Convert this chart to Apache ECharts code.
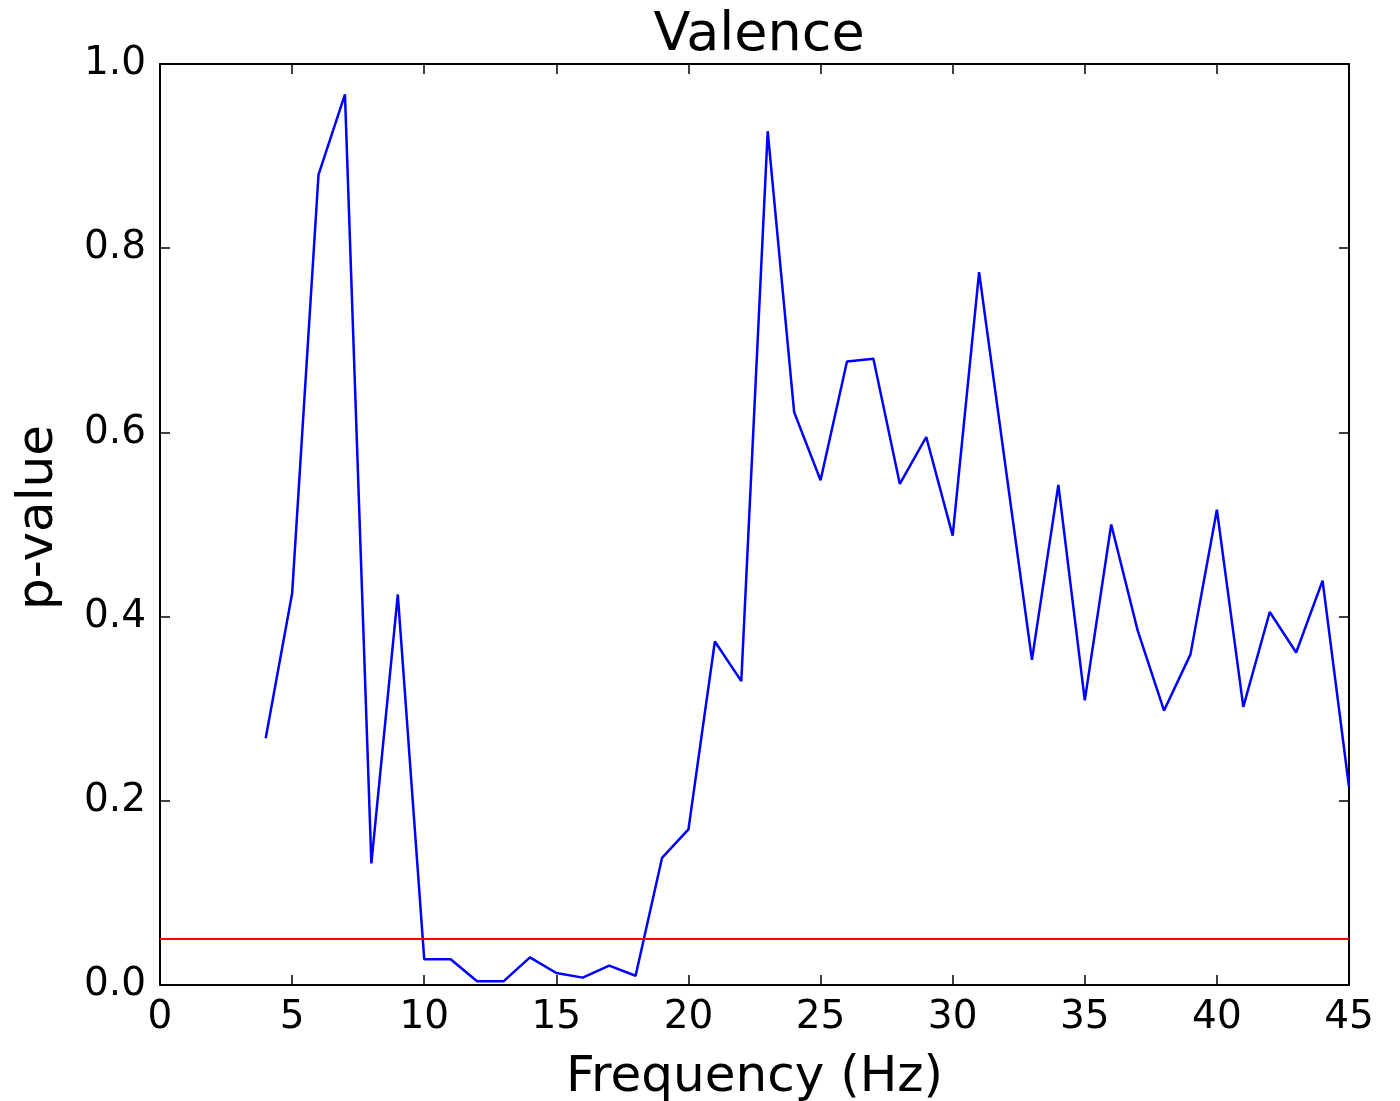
<!DOCTYPE html>
<html>
<head>
<meta charset="utf-8">
<script src="https://cdn.jsdelivr.net/npm/echarts@6/dist/echarts.min.js"></script>
<style>
html, body { margin: 0; padding: 0; background: #fff; }
#chart { width: 1400px; height: 1101px; }
</style>
</head>
<body>
<div id="chart"></div>
<script>
// frequency bins (Hz) and p-value per bin
var freq_hz = [4, 5, 6, 7, 8, 9, 10, 11, 12, 13, 14, 15, 16, 17, 18, 19, 20, 21, 22, 23, 24,
	25, 26, 27, 28, 29, 30, 31, 32, 33, 34, 35, 36, 37, 38, 39, 40, 41, 42, 43, 44, 45];
var p_value = [0.268, 0.425, 0.880, 0.967, 0.132, 0.424, 0.028, 0.028, 0.004, 0.004, 0.030,
	0.013, 0.008, 0.021, 0.010, 0.138, 0.169, 0.373, 0.330, 0.927, 0.622,
	0.548, 0.677, 0.680, 0.544, 0.595, 0.488, 0.774, 0.563, 0.353, 0.543,
	0.309, 0.500, 0.385, 0.298, 0.359, 0.516, 0.302, 0.405, 0.361, 0.439, 0.215];
var threshold = 0.05; // significance line

var x_ticks = [0, 5, 10, 15, 20, 25, 30, 35, 40, 45];
var y_ticks = [0.0, 0.2, 0.4, 0.6, 0.8, 1.0];

var font = 'DejaVu Sans';

var line_data = [];
for (var i = 0; i < freq_hz.length; i++) {
	line_data.push([freq_hz[i], p_value[i]]);
}

var frame_line = {show: true, onZero: false, lineStyle: {color: '#000', width: 2}};
var inner_tick = {show: true, inside: true, length: 10, lineStyle: {color: '#000', width: 1.5}};

var chart = echarts.init(document.getElementById('chart'));
var option = {
	backgroundColor: '#fff',
	animation: false,
	title: {
		text: 'Valence',
		left: 754,
		textAlign: 'center',
		top: 4,
		textStyle: {fontFamily: font, fontSize: 54, fontWeight: 'normal', color: '#000'}
	},
	grid: {left: 160, right: 51, top: 64, bottom: 116, outerBoundsMode: 'none', containLabel: false},
	xAxis: [
		{
			type: 'value',
			min: x_ticks[0],
			max: x_ticks[x_ticks.length - 1],
			interval: 5,
			name: 'Frequency (Hz)',
			nameLocation: 'middle',
			nameGap: 68,
			nameTextStyle: {fontFamily: font, fontSize: 50, color: '#000'},
			axisLine: frame_line,
			axisTick: inner_tick,
			axisLabel: {fontFamily: font, fontSize: 39, color: '#000', margin: 13},
			splitLine: {show: false}
		},
		{
			type: 'value',
			position: 'top',
			min: x_ticks[0],
			max: x_ticks[x_ticks.length - 1],
			interval: 5,
			axisLine: frame_line,
			axisTick: inner_tick,
			axisLabel: {show: false},
			splitLine: {show: false}
		}
	],
	yAxis: [
		{
			type: 'value',
			min: y_ticks[0],
			max: y_ticks[y_ticks.length - 1],
			interval: 0.2,
			name: 'p-value',
			nameLocation: 'middle',
			nameGap: 96,
			nameTextStyle: {fontFamily: font, fontSize: 50, color: '#000', padding: [0, 0, 0, 14]},
			axisLine: frame_line,
			axisTick: inner_tick,
			axisLabel: {
				fontFamily: font, fontSize: 39, color: '#000', margin: 14,
				formatter: function (v) { return v.toFixed(1); }
			},
			splitLine: {show: false}
		},
		{
			type: 'value',
			position: 'right',
			min: y_ticks[0],
			max: y_ticks[y_ticks.length - 1],
			interval: 0.2,
			axisLine: frame_line,
			axisTick: inner_tick,
			axisLabel: {show: false},
			splitLine: {show: false}
		}
	],
	series: [
		{
			name: 'p-value',
			type: 'line',
			data: line_data,
			showSymbol: false,
			lineStyle: {color: '#0000ff', width: 2.5},
			markLine: {
				silent: true,
				symbol: 'none',
				label: {show: false},
				lineStyle: {color: '#ff0000', width: 2, type: 'solid'},
				data: [{yAxis: threshold}]
			}
		}
	]
};
chart.setOption(option);
</script>
</body>
</html>
